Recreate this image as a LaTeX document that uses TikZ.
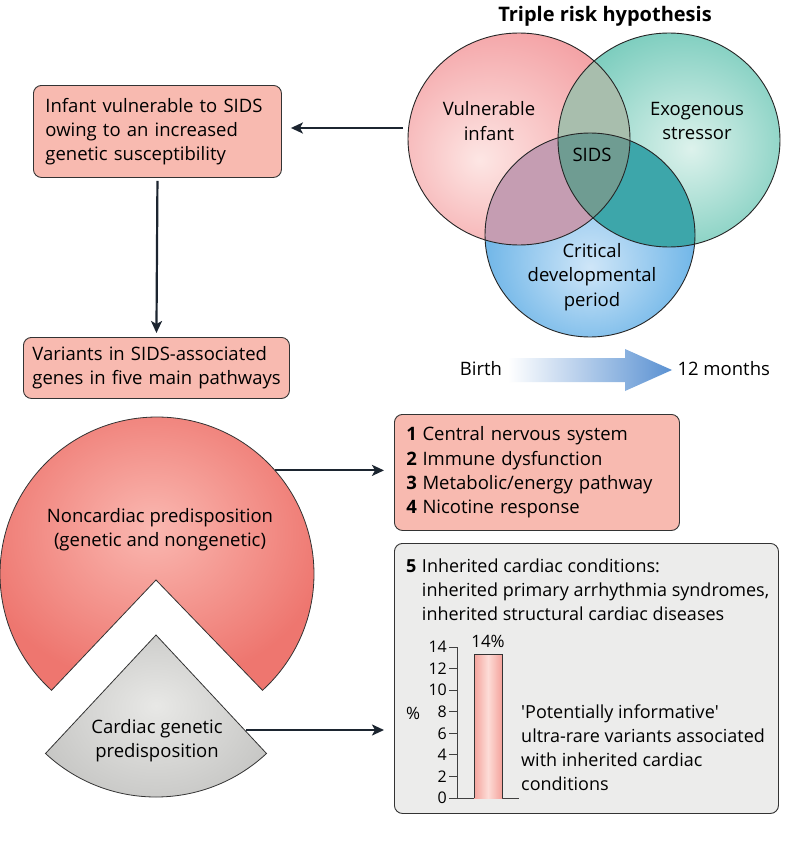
\documentclass[tikz,border=0pt]{standalone}
\usepackage{fontspec}
\setmainfont{Open Sans}
\usetikzlibrary{arrows.meta}
\newcommand\straightq{{\XeTeXglyph\XeTeXcharglyph"27\relax}}
\definecolor{salmon}{HTML}{F8BAB0}
\definecolor{boxgray}{HTML}{ECECEB}
\definecolor{edgec}{HTML}{333333}
\definecolor{arrowc}{HTML}{1C2530}
\definecolor{pkin}{HTML}{FDE6E4}
\definecolor{pkout}{HTML}{F4A3A6}
\definecolor{tlin}{HTML}{DDF2EC}
\definecolor{tlout}{HTML}{7CCDBE}
\definecolor{blin}{HTML}{CFE6F8}
\definecolor{blout}{HTML}{5EADE5}
\definecolor{ovPT}{HTML}{A8BEAD}
\definecolor{ovPB}{HTML}{C59DB2}
\definecolor{ovTB}{HTML}{3DA6AA}
\definecolor{ovAll}{HTML}{6F9C92}
\definecolor{ncin}{HTML}{FAB8B1}
\definecolor{ncout}{HTML}{EE766F}
\definecolor{cgin}{HTML}{E8E8E6}
\definecolor{cgout}{HTML}{C6C6C4}
\definecolor{barin}{HTML}{FDDCD7}
\definecolor{barout}{HTML}{F4A39C}
\definecolor{arrblue}{HTML}{5A91D2}
\pgfdeclareradialshading{pinkrad}{\pgfpoint{-9bp}{-5bp}}{color(0bp)=(pkin); color(30bp)=(pkout); color(70bp)=(pkout)}
\pgfdeclareradialshading{tealrad}{\pgfpoint{5bp}{-2bp}}{color(0bp)=(tlin); color(28bp)=(tlout); color(70bp)=(tlout)}
\pgfdeclareradialshading{bluerad}{\pgfpoint{0bp}{-8bp}}{color(0bp)=(blin); color(30bp)=(blout); color(70bp)=(blout)}
\pgfdeclareradialshading{ncrad}{\pgfpoint{0bp}{3bp}}{color(0bp)=(ncin); color(26bp)=(ncout); color(70bp)=(ncout)}
\pgfdeclareradialshading{cgrad}{\pgfpoint{0bp}{5bp}}{color(0bp)=(cgin); color(28bp)=(cgout); color(70bp)=(cgout)}
\begin{document}
\begin{tikzpicture}[x=1pt,y=-1pt, font=\fontsize{18.5}{24.3}\selectfont,
  box/.style={draw=edgec, line width=0.9pt, rounded corners=8pt, fill=salmon, anchor=north west, align=left, inner ysep=0pt},
  arr/.style={draw=arrowc, line width=2.2pt, -{Stealth[length=12pt,width=11pt,inset=3pt]}},
  venn/.style={draw=black!85, line width=0.9pt},
  lbl/.style={align=center, inner sep=0pt},
  axisline/.style={draw=black!75, line width=0.8pt},
  ticklbl/.style={anchor=east, inner sep=1pt, font=\fontsize{16}{18}\selectfont}]

\useasboundingbox (0,0) rectangle (800,867);
\fill[white] (0,0) rectangle (800,867);

% ---------- Venn diagram ----------
\node[font=\fontsize{20}{24}\selectfont\bfseries] (title) at (605,16) {Triple risk hypothesis};

\shade[shading=pinkrad] (519,139) ellipse [x radius=111, y radius=106];
\shade[shading=tealrad] (669,140) ellipse [x radius=111, y radius=107];
\shade[shading=bluerad] (590,235) ellipse [x radius=105, y radius=102];
\begin{scope}
  \clip (519,139) ellipse [x radius=111, y radius=106];
  \fill[ovPT] (669,140) ellipse [x radius=111, y radius=107];
  \fill[ovPB] (590,235) ellipse [x radius=105, y radius=102];
\end{scope}
\begin{scope}
  \clip (669,140) ellipse [x radius=111, y radius=107];
  \fill[ovTB] (590,235) ellipse [x radius=105, y radius=102];
  \clip (519,139) ellipse [x radius=111, y radius=106];
  \fill[ovAll] (590,235) ellipse [x radius=105, y radius=102];
\end{scope}
\draw[venn] (519,139) ellipse [x radius=111, y radius=106];
\draw[venn] (669,140) ellipse [x radius=111, y radius=107];
\draw[venn] (590,235) ellipse [x radius=105, y radius=102];

\node[lbl] (vi) at (489,121) {Vulnerable\\infant};
\node[lbl] (es) at (697,121) {Exogenous\\stressor};
\node[lbl] (sids) at (592,155) {SIDS};
\node[lbl] (cdp) at (592,277) {Critical\\developmental\\period};
\coordinate (pinkW) at (403,128);

% ---------- Birth arrow ----------
\shade[left color=white, right color=arrblue] (508,358) -- (625,358) -- (625,349) -- (672,370) -- (625,391) -- (625,382) -- (508,382) -- cycle;
\node (birth) at (481,369) {Birth};
\node[anchor=west] (months) at (674,369) {12 months};

% ---------- Left boxes ----------
\node[box, text width=224pt, inner xsep=12pt, minimum height=92pt] (b1) at (33,85)
  {\mbox{Infant vulnerable to SIDS}\\\mbox{owing to an increased}\\\mbox{genetic susceptibility}};
\node[box, text width=248pt, inner xsep=9pt, minimum height=61pt] (b2) at (23,337)
  {\mbox{Variants in SIDS-associated}\\\mbox{genes in five main pathways}};
\draw[arr, shorten >=9pt] (pinkW) -- (pinkW -| b1.east);
\draw[arr] ([yshift=-3pt]b1.south) -- ([yshift=4pt]b2.north);

% ---------- Pie shapes ----------
\path (157,574) ++(132.2:157) coordinate (pl);
\path (157,574) ++(318.7:157) coordinate (ncR);
\shade[shading=ncrad, draw=edgec, line width=0.8pt] (156,580) -- (pl) arc[start angle=132.2, end angle=407.8, radius=157] -- cycle;
\path (156,635) ++(133:162) coordinate (gl);
\shade[shading=cgrad, draw=edgec, line width=0.8pt] (156,635) -- (gl) arc[start angle=133, end angle=47, radius=162] -- cycle;
\coordinate (cgR) at (246,730);
\node[lbl] (nc) at (160,530) {Noncardiac predisposition\\(genetic and nongenetic)};
\node[lbl] (cg) at (157,741) {Cardiac genetic\\predisposition};

% ---------- Right boxes ----------
\node[box, text width=261pt, inner xsep=12pt, minimum height=116pt] (b3) at (394,414)
  {\begin{tabular}{@{}l@{\hspace{5.5pt}}l@{}}\textbf{1}&Central nervous system\\ \textbf{2}&Immune dysfunction\\ \textbf{3}&Metabolic/energy pathway\\ \textbf{4}&Nicotine response\end{tabular}};
\node[box, fill=boxgray, minimum width=384pt, minimum height=270pt, inner sep=0pt] (b4) at (394,543) {};
\node[anchor=north west, inner sep=0pt, font=\fontsize{18}{24.3}\selectfont] (t5) at (406,555)
  {\begin{tabular}{@{}l@{\hspace{5.5pt}}l@{}}\textbf{5}&Inherited cardiac conditions:\\ &inherited primary arrhythmia syndromes,\\ &inherited structural cardiac diseases\end{tabular}};

\draw[arr, shorten >=10pt] (ncR) -- (ncR -| b3.west);
\draw[arr, shorten >=10pt] (cgR) -- (cgR -| b4.west);

% ---------- Bar chart ----------
\draw[axisline] (457,647) -- (457,798);
\draw[axisline] (449,798) -- (519,798);
\foreach \v in {0,2,...,14} {
  \draw[axisline] (449,{798-\v*10.786}) -- (457,{798-\v*10.786});
  \node[ticklbl] (tk\v) at (448,{798-\v*10.786}) {\v};
}
\shade[left color=barout, right color=barout, middle color=barin] (474,654) rectangle (502,798);
\draw[draw=edgec, line width=0.8pt] (474,798) -- (474,654) -- (502,654) -- (502,798);
\node[inner sep=0pt, font=\fontsize{17}{20}\selectfont] (pct) at (488,641) {14\%};
\node[inner sep=0pt, font=\fontsize{17}{20}\selectfont] (pctax) at (413,713) {\%};
\node[anchor=north west, inner sep=0pt, font=\fontsize{18}{24}\selectfont] (pi) at (521,701)
  {\begin{tabular}{@{}l@{}}\straightq Potentially informative\straightq\\ ultra-rare variants associated\\ with inherited cardiac\\ conditions\end{tabular}};
\end{tikzpicture}
\end{document}
